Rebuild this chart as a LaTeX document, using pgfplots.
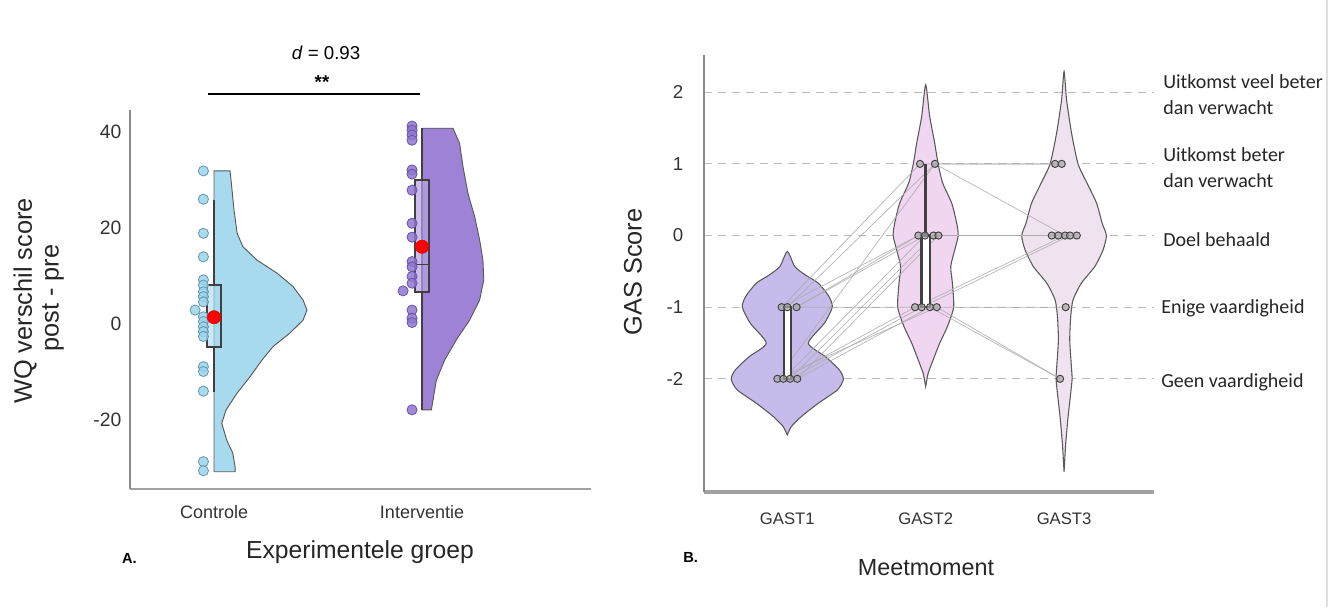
\documentclass[border=0pt]{standalone}
\usepackage{fontspec}
\setmainfont{Liberation Sans}
\newfontfamily\carlito{Carlito}
\usepackage{pgfplots}
\pgfplotsset{compat=1.18}
\definecolor{ctrl}{HTML}{A8DAEF}
\definecolor{ctrldot}{HTML}{9ED3EA}
\definecolor{ctrledge}{HTML}{5F97B0}
\definecolor{intv}{HTML}{9D82D5}
\definecolor{intvbox}{HTML}{B7A3E4}
\definecolor{intvdot}{HTML}{9176CF}
\definecolor{intvedge}{HTML}{6A52A8}
\definecolor{gone}{HTML}{C7BBEC}
\definecolor{gtwo}{HTML}{F0D6F1}
\definecolor{gthree}{HTML}{EFE3EF}
\definecolor{spine}{HTML}{8A8A8A}
\begin{document}
\begin{tikzpicture}
\path[use as bounding box] (0,0) rectangle (999.75pt,455.25pt);
% ---------------- Panel A ----------------
\begin{axis}[
 at={(97.5pt,88.5pt)}, anchor=south west, scale only axis,
 width=345.75pt, height=284.25pt,
 xmin=-0.404, xmax=1.8125, ymin=-34.4, ymax=44.6,
 axis x line*=bottom, axis y line*=left,
 x axis line style={-, draw=spine!80, line width=2.2pt},
 y axis line style={-, draw=spine, line width=1.2pt},
 xtick={0,1}, xticklabels={Controle,Interventie},
 ytick={-20,0,20,40}, yticklabels={-20,0,20,40},
 major tick length=0pt,
 xticklabel style={font=\fontsize{13.5}{16}\selectfont, text=black!80, yshift=-9pt},
 yticklabel style={font=\fontsize{14.5}{17}\selectfont, text=black!80, xshift=-3pt},
 clip=false,
]
% control half violin
\addplot[fill=ctrl, draw=black!65, line width=0.7pt] coordinates {
(0,31.9) (0.077,31.9) (0.085,28.6) (0.096,23.75) (0.111,18.9) (0.139,16.1) (0.207,13.3)
(0.303,10.6) (0.380,7.8) (0.428,5.0) (0.447,2.9) (0.428,0.8) (0.365,-1.9) (0.284,-4.7)
(0.231,-7.5) (0.173,-11.0) (0.111,-14.4) (0.058,-17.9) (0.037,-20.7) (0.061,-24.2)
(0.090,-26.9) (0.101,-29.7) (0.101,-30.8) (0,-30.8)} -- cycle;
% intervention half violin
\addplot[fill=intv, draw=black!65, line width=0.7pt] coordinates {
(1,40.8) (1.149,40.8) (1.181,37.6) (1.197,32.8) (1.221,27.2) (1.253,22.4) (1.277,17.5)
(1.293,13.3) (1.297,9.2) (1.277,5.0) (1.229,0.8) (1.165,-3.3) (1.109,-7.5) (1.069,-11.7)
(1.053,-15.8) (1.045,-17.9) (1,-17.9)} -- cycle;
% whiskers
\addplot[draw=black!75, line width=1.6pt] coordinates {(0,25.8) (0,8.1)};
\addplot[draw=black!75, line width=1.6pt] coordinates {(0,-4.7) (0,-14.1)};
\addplot[draw=black!75, line width=1.6pt] coordinates {(1,40.8) (1,-17.9)};
% boxes
\addplot[fill=ctrl, fill opacity=0.6, draw=black!75, line width=1.5pt] coordinates {
(-0.032,-4.7) (0.032,-4.7) (0.032,8.1) (-0.032,8.1)} -- cycle;
\addplot[fill=intvbox, fill opacity=0.7, draw=black!75, line width=1.5pt] coordinates {
(0.968,6.7) (1.032,6.7) (1.032,30.1) (0.968,30.1)} -- cycle;
\addplot[draw=black!75, line width=1.3pt] coordinates {(0.968,12.4) (1.032,12.4)};
% data points
\addplot[only marks, mark=*, mark size=3.8pt, mark options={fill=ctrldot, draw=ctrledge, fill opacity=0.85, line width=0.6pt}] coordinates {
(-0.051,31.9) (-0.051,26.0) (-0.051,18.9) (-0.051,14.0) (-0.051,9.2) (-0.051,8.1)
(-0.051,6.7) (-0.051,5.7) (-0.051,4.6) (-0.091,2.9) (-0.051,1.5) (-0.051,0.5)
(-0.051,-0.6) (-0.051,-1.6) (-0.051,-2.6) (-0.051,-8.9) (-0.051,-9.9) (-0.051,-14.0)
(-0.051,-28.7) (-0.051,-30.6)};
\addplot[only marks, mark=*, mark size=3.8pt, mark options={fill=intvdot, draw=intvedge, fill opacity=0.85, line width=0.6pt}] coordinates {
(0.952,41.25) (0.952,40.4) (0.952,39.4) (0.952,38.3) (0.952,32.1) (0.952,31.25)
(0.952,27.9) (0.952,21.0) (0.952,18.1) (0.952,13.0) (0.952,11.9) (0.952,9.9)
(0.952,8.5) (0.909,6.9) (0.952,2.9) (0.952,1.2) (0.952,0.3) (0.952,-17.9)};
% means
\addplot[only marks, mark=*, mark size=5pt, mark options={fill=red, draw=red!90!black}] coordinates {(0,1.4) (1,16.1)};
\end{axis}
% Panel A annotations
\draw[black, line width=2.2pt] (156pt,384.75pt) -- (315pt,384.75pt);
\node[font=\fontsize{14}{16}\selectfont] at (244.5pt,415.5pt) {\textit{d} = 0.93};
\node[font=\bfseries\fontsize{14}{16}\selectfont] at (241.5pt,394pt) {**};
\node[rotate=90, font=\fontsize{19}{22}\selectfont, text=black!85] at (18.75pt,229.5pt) {WQ verschil score};
\node[rotate=90, font=\fontsize{19}{22}\selectfont, text=black!85] at (39.75pt,231.75pt) {post - pre};
\node[font=\fontsize{18.5}{22}\selectfont, text=black!85] at (270pt,41.25pt) {Experimentele groep};
\node[anchor=west, font=\bfseries\fontsize{11}{13}\selectfont] at (88pt,36.75pt) {A.};
% ---------------- Panel B ----------------
\begin{axis}[
 at={(528pt,86.25pt)}, anchor=south west, scale only axis,
 width=337.5pt, height=327.75pt,
 xmin=0.398, xmax=3.65, ymin=-3.58, ymax=2.52,
 axis x line*=bottom, axis y line*=left,
 x axis line style={-, draw=spine!80, line width=2.4pt},
 y axis line style={-, draw=spine, line width=1.5pt},
 xtick={1,2,3}, xticklabels={GAST1,GAST2,GAST3},
 ytick={-2,-1,0,1,2}, yticklabels={-2,-1,0,1,2},
 major tick length=0pt,
 ymajorgrids, grid style={gray!55, line width=0.8pt, dash pattern=on 6pt off 4.5pt},
 xticklabel style={font=\fontsize{12.5}{15}\selectfont, text=black!80, yshift=-12pt},
 yticklabel style={font=\fontsize{14}{17}\selectfont, text=black!80, xshift=-12pt},
 clip=false,
]
% violins
\addplot[fill=gone, draw=black!65, line width=0.8pt, smooth, tension=0.4] coordinates {
(1,-2.783) (1.029,-2.667) (1.101,-2.527) (1.224,-2.341) (1.362,-2.155) (1.405,-2.006)
(1.376,-1.876) (1.275,-1.69) (1.152,-1.503) (1.268,-1.223) (1.325,-1.0) (1.301,-0.851)
(1.224,-0.665) (1.130,-0.55) (1.054,-0.433) (1,-0.223)
(0.946,-0.433) (0.870,-0.55) (0.776,-0.665) (0.699,-0.851) (0.675,-1.0) (0.732,-1.223)
(0.848,-1.503) (0.725,-1.69) (0.624,-1.876) (0.595,-2.006) (0.638,-2.155) (0.776,-2.341)
(0.899,-2.527) (0.971,-2.667)} -- cycle;
\addplot[fill=gtwo, draw=black!65, line width=0.8pt, smooth, tension=0.4] coordinates {
(2,-2.108) (2.018,-1.922) (2.054,-1.736) (2.101,-1.503) (2.157,-1.27) (2.202,-1.0)
(2.193,-0.665) (2.181,-0.433) (2.210,-0.2) (2.235,0) (2.224,0.173) (2.188,0.452)
(2.123,0.731) (2.090,0.997) (2.065,1.29) (2.029,1.662) (2,2.105)
(1.971,1.662) (1.935,1.29) (1.910,0.997) (1.877,0.731) (1.812,0.452) (1.776,0.173)
(1.765,0) (1.790,-0.2) (1.819,-0.433) (1.807,-0.665) (1.798,-1.0) (1.843,-1.27)
(1.899,-1.503) (1.946,-1.736) (1.982,-1.922)} -- cycle;
\addplot[fill=gthree, draw=black!65, line width=0.8pt, smooth, tension=0.4] coordinates {
(3,-3.3) (3.012,-2.9) (3.029,-2.53) (3.048,-2.2) (3.058,-2.0) (3.053,-1.83) (3.041,-1.457)
(3.048,-1.131) (3.065,-0.898) (3.125,-0.665) (3.222,-0.433) (3.282,-0.2) (3.306,0)
(3.275,0.173) (3.235,0.452) (3.166,0.731) (3.101,1.0) (3.054,1.43) (3.018,1.895) (3,2.29)
(2.982,1.895) (2.946,1.43) (2.899,1.0) (2.834,0.731) (2.765,0.452) (2.725,0.173)
(2.694,0) (2.718,-0.2) (2.778,-0.433) (2.875,-0.665) (2.935,-0.898) (2.952,-1.131)
(2.959,-1.457) (2.947,-1.83) (2.942,-2.0) (2.952,-2.2) (2.971,-2.53) (2.988,-2.9)} -- cycle;
% subject trajectories
\pgfplotsset{subj/.style={draw=gray!65, line width=0.55pt, opacity=0.85}}
\addplot[subj] coordinates {(0.959,-1) (1.959,1) (2.935,1)};
\addplot[subj] coordinates {(1.000,-1) (2.067,1) (3.007,0)};
\addplot[subj] coordinates {(1.067,-1) (1.947,0) (2.959,0)};
\addplot[subj] coordinates {(0.928,-2) (2.067,1) (2.983,1)};
\addplot[subj] coordinates {(0.971,-2) (1.995,0) (3.043,0)};
\addplot[subj] coordinates {(1.020,-2) (2.056,0) (2.911,0)};
\addplot[subj] coordinates {(1.072,-2) (2.092,0) (3.092,0)};
\addplot[subj] coordinates {(0.971,-2) (1.923,-1) (3.007,0)};
\addplot[subj] coordinates {(1.020,-2) (1.971,-1) (3.043,0)};
\addplot[subj] coordinates {(1.072,-2) (2.031,-1) (3.012,-1)};
\addplot[subj] coordinates {(0.928,-2) (2.080,-1) (2.971,-2)};
\addplot[subj] coordinates {(1.000,-1) (2.031,-1) (2.971,-2)};
\addplot[subj] coordinates {(1.067,-1) (1.995,0) (3.092,0)};
\addplot[subj] coordinates {(0.959,-1) (1.947,0) (2.959,0)};
% boxes
\addplot[fill=white, draw=black!75, line width=1.6pt] coordinates {
(0.973,-2) (1.027,-2) (1.027,-1) (0.973,-1)} -- cycle;
\addplot[fill=white, draw=black!75, line width=1.6pt] coordinates {
(1.970,-1) (2.030,-1) (2.030,0) (1.970,0)} -- cycle;
\addplot[draw=black!75, line width=2pt] coordinates {(2,0) (2,1)};
% points
\addplot[only marks, mark=*, mark size=2.7pt, mark options={fill=gray!70, draw=black!75, fill opacity=0.7, line width=0.7pt}] coordinates {
(0.959,-1) (1.000,-1) (1.067,-1)
(0.928,-2) (0.971,-2) (1.020,-2) (1.072,-2)
(1.959,1) (2.067,1)
(1.947,0) (1.995,0) (2.056,0) (2.092,0)
(1.923,-1) (1.971,-1) (2.031,-1) (2.080,-1)
(2.935,1) (2.983,1)
(2.911,0) (2.959,0) (3.007,0) (3.043,0) (3.092,0)
(3.012,-1) (2.971,-2)};
\end{axis}
% Panel B annotations
\node[rotate=90, font=\fontsize{19}{22}\selectfont, text=black!85] at (474.75pt,251.25pt) {GAS Score};
\node[font=\fontsize{17.5}{21}\selectfont, text=black!85] at (694.5pt,29.25pt) {Meetmoment};
\node[anchor=west, font=\bfseries\fontsize{11}{13}\selectfont] at (509pt,37.5pt) {B.};
\begin{scope}[every node/.style={anchor=west, align=left, inner sep=0pt, font=\carlito\fontsize{15}{19.5}\selectfont, text=black!85}]
\node at (872.25pt,384.4pt) {Uitkomst veel beter\\dan verwacht};
\node at (872.25pt,329.6pt) {Uitkomst beter\\dan verwacht};
\node at (872.25pt,275.25pt) {Doel behaald};
\node at (870.75pt,224.25pt) {Enige vaardigheid};
\node at (870.75pt,168.75pt) {Geen vaardigheid};
\end{scope}
\draw[gray!25, line width=0.8pt] (995.25pt,0pt) -- (995.25pt,455.25pt);
\end{tikzpicture}
\end{document}
